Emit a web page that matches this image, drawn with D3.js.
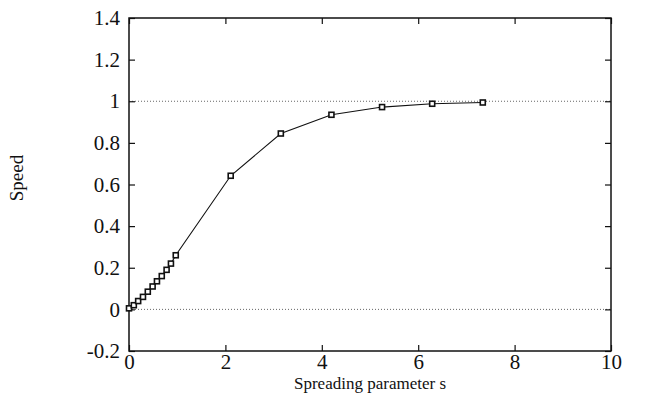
<!DOCTYPE html>
<html>
<head>
<meta charset="utf-8">
<script src="https://cdn.jsdelivr.net/npm/d3@7"></script>
<style>
  body { margin: 0; background: #fff; }
  text { font-family: "Liberation Serif", "Times New Roman", serif; fill: #111; }
</style>
</head>
<body>
<svg id="chart" width="646" height="394"></svg>
<script>
// data
var sValues = [0, 0.1, 0.19, 0.29, 0.39, 0.49, 0.58, 0.68, 0.78, 0.87, 0.97,
               2.11, 3.15, 4.2, 5.25, 6.29, 7.34];
var speedValues = [0.005, 0.02, 0.04, 0.06, 0.085, 0.11, 0.135, 0.16, 0.19, 0.22, 0.26,
                   0.642, 0.845, 0.935, 0.972, 0.988, 0.994];
var speedErrors = [0.008, 0.006, 0.006, 0.006, 0.006, 0.006, 0.006, 0.006, 0.006, 0.006, 0.007,
                   0.008, 0.008, 0.008, 0.008, 0.008, 0.008];
var xTicks = [0, 2, 4, 6, 8, 10];
var yTicks = [-0.2, 0, 0.2, 0.4, 0.6, 0.8, 1, 1.2, 1.4];
var refLines = [0, 1];

var data = sValues.map(function(s, i) {
  return { s: s, speed: speedValues[i], err: speedErrors[i] };
});

var width = 646;
var height = 394;
var margin = { left: 129, right: 35, top: 18, bottom: 43 };

var xScale = d3.scaleLinear()
               .domain([0, 10])
               .range([margin.left, width - margin.right]);

var yScale = d3.scaleLinear()
               .domain([-0.2, 1.4])
               .range([height - margin.bottom, margin.top]);

var svg = d3.select("#chart");

// dotted reference lines
svg.append("g")
    .selectAll("line")
    .data(refLines)
    .join("line")
      .attr("x1", xScale(0))
      .attr("x2", xScale(10))
      .attr("y1", d => yScale(d))
      .attr("y2", d => yScale(d))
      .attr("stroke", "#666")
      .attr("stroke-width", 1)
      .attr("stroke-dasharray", "1,2");

// axes, ticks pointing inward and mirrored
var xAxis = d3.axisBottom(xScale)
              .tickValues(xTicks)
              .tickFormat(d3.format("d"))
              .tickSize(-6)
              .tickSizeOuter(0)
              .tickPadding(3);

var yAxis = d3.axisLeft(yScale)
              .tickValues(yTicks)
              .tickFormat(d => d3.format(".1f")(d).replace(/\.0$/, "").replace("\u2212", "-"))
              .tickSize(-6)
              .tickSizeOuter(0)
              .tickPadding(9);

svg.append("g")
    .attr("transform", "translate(0," + yScale(-0.2) + ")")
    .call(xAxis)
    .call(g => g.select(".domain").remove())
    .call(g => g.selectAll("line").attr("stroke", "#111").attr("stroke-width", 1.2))
    .call(g => g.selectAll("text").style("font-size", "21px").attr("fill", "#111"));

svg.append("g")
    .attr("transform", "translate(" + xScale(0) + ",0)")
    .call(yAxis)
    .call(g => g.select(".domain").remove())
    .call(g => g.selectAll("line").attr("stroke", "#111").attr("stroke-width", 1.2))
    .call(g => g.selectAll("text").style("font-size", "21px").attr("fill", "#111"));

svg.append("g")
    .attr("transform", "translate(0," + yScale(1.4) + ")")
    .call(d3.axisTop(xScale).tickValues(xTicks).tickFormat("").tickSize(-6).tickSizeOuter(0))
    .call(g => g.select(".domain").remove())
    .call(g => g.selectAll("line").attr("stroke", "#111").attr("stroke-width", 1.2));

svg.append("g")
    .attr("transform", "translate(" + xScale(10) + ",0)")
    .call(d3.axisRight(yScale).tickValues(yTicks).tickFormat("").tickSize(-6).tickSizeOuter(0))
    .call(g => g.select(".domain").remove())
    .call(g => g.selectAll("line").attr("stroke", "#111").attr("stroke-width", 1.2));

// frame
svg.append("rect")
    .attr("x", xScale(0))
    .attr("y", yScale(1.4))
    .attr("width", xScale(10) - xScale(0))
    .attr("height", yScale(-0.2) - yScale(1.4))
    .attr("fill", "none")
    .attr("stroke", "#111")
    .attr("stroke-width", 1.5);

// curve
var line = d3.line()
             .x(d => xScale(d.s))
             .y(d => yScale(d.speed));

svg.append("path")
    .datum(data)
    .attr("d", line)
    .attr("fill", "none")
    .attr("stroke", "#111")
    .attr("stroke-width", 1.1);

// markers with error bars
var pts = svg.append("g")
    .selectAll("g")
    .data(data)
    .join("g")
      .attr("transform", d => `translate(${xScale(d.s)},0)`);

pts.append("line")
    .attr("y1", d => yScale(d.speed - d.err))
    .attr("y2", d => yScale(d.speed + d.err))
    .attr("stroke", "#111")
    .attr("stroke-width", 1.3);

pts.append("rect")
    .attr("x", -2.5)
    .attr("y", d => yScale(d.speed) - 2.5)
    .attr("width", 5)
    .attr("height", 5)
    .attr("fill", "#fff")
    .attr("stroke", "#111")
    .attr("stroke-width", 1.6);

// axis titles
svg.append("text")
    .attr("x", (xScale(0) + xScale(10)) / 2)
    .attr("y", 389)
    .style("text-anchor", "middle")
    .style("font-size", "17px")
    .text("Spreading parameter s");

svg.append("text")
    .attr("transform", "translate(23," + 178 + ") rotate(-90)")
    .style("text-anchor", "middle")
    .style("font-size", "19px")
    .text("Speed");
</script>
</body>
</html>
